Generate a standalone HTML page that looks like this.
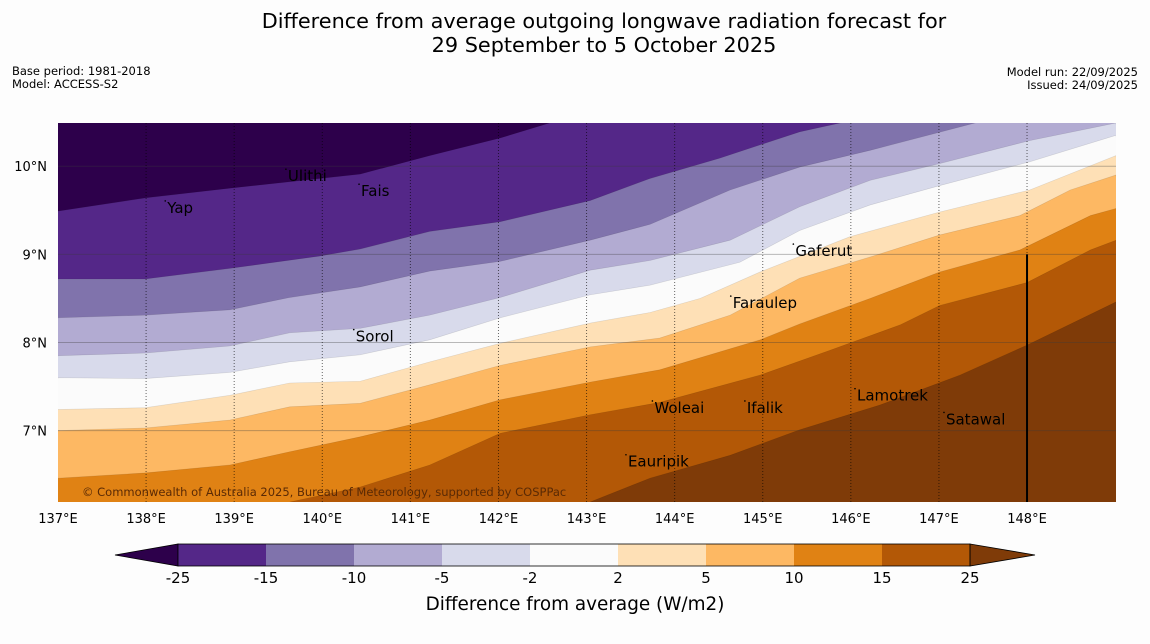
<!DOCTYPE html>
<html><head><meta charset="utf-8">
<style>
body{margin:0;background:#fdfdfd;font-family:"DejaVu Sans","Liberation Sans",sans-serif;}
#wrap{position:relative;width:1150px;height:644px;overflow:hidden;background:#fdfdfd;}
</style></head>
<body>
<div id="wrap">
<svg id="svg" width="1150" height="644" xmlns="http://www.w3.org/2000/svg" font-family="DejaVu Sans, Liberation Sans, sans-serif">
  <text x="604" y="28" font-size="20.8" text-anchor="middle" fill="#000">Difference from average outgoing longwave radiation forecast for</text>
  <text x="604" y="52" font-size="20.8" text-anchor="middle" fill="#000">29 September to 5 October 2025</text>
  <text x="12" y="75" font-size="11.5">Base period: 1981-2018</text>
  <text x="12" y="88" font-size="11.5">Model: ACCESS-S2</text>
  <text x="1138" y="76" font-size="11.5" text-anchor="end">Model run: 22/09/2025</text>
  <text x="1138" y="89" font-size="11.5" text-anchor="end">Issued: 24/09/2025</text>
  <g id="map"></g>
  <g id="cbar"></g>
</svg>
</div>
<script>
const levels = [-25,-15,-10,-5,-2,2,5,10,15,25];
const colors = ["#2d004b","#542788","#8073ac","#b2abd2","#d8daeb","#fbfbfb","#fee0b6","#fdb863","#e08214","#b35806","#7f3b08"];
const lonTicks = [137,138,139,140,141,142,143,144,145,146,147,148];
const latTicks = [7,8,9,10];
const b25nLon=[137,137.99,138.95,139.97,140.43,141.22,142.02,142.58];
const b25nLat=[9.49,9.64,9.75,9.86,9.91,10.12,10.32,10.49];
const b15nLon=[137,137.99,138.95,139.97,140.43,141.22,142.02,143.04,143.72,144.51,145.42,145.88];
const b15nLat=[8.72,8.72,8.84,8.98,9.06,9.26,9.37,9.61,9.86,10.09,10.39,10.49];
const b10nLon=[137,137.99,138.95,139.63,140.43,141.22,142.02,143.04,143.72,144.63,145.42,146.22,147.41];
const b10nLat=[8.28,8.31,8.37,8.51,8.63,8.81,8.92,9.16,9.34,9.73,9.99,10.18,10.49];
const b5nLon=[137,137.99,138.95,139.63,140.43,141.22,142.02,143.04,143.72,144.63,145.42,146.22,147.01,148.03,149.01];
const b5nLat=[7.85,7.88,7.96,8.11,8.16,8.31,8.51,8.82,8.93,9.16,9.54,9.84,10.03,10.29,10.49];
const b2nLon=[137,137.99,138.95,139.63,140.43,141.22,142.02,143.04,143.72,144.74,145.42,146.22,147.01,148.03,149.01];
const b2nLat=[7.60,7.59,7.66,7.78,7.86,8.03,8.28,8.54,8.65,8.91,9.27,9.56,9.78,10.05,10.35];
const b2Lon=[137,137.99,138.95,139.63,140.43,141.22,142.02,143.04,143.72,144.29,144.97,145.99,147.01,148.03,149.01];
const b2Lat=[7.24,7.26,7.40,7.54,7.56,7.78,7.99,8.22,8.34,8.50,8.80,9.20,9.48,9.73,10.12];
const b5Lon=[137,137.99,138.95,139.63,140.43,141.22,142.02,143.04,143.83,144.63,145.42,146.22,147.01,147.92,148.49,149.01];
const b5Lat=[7.00,7.03,7.12,7.27,7.31,7.52,7.74,7.95,8.05,8.31,8.73,8.97,9.22,9.44,9.73,9.90];
const b10Lon=[137,137.99,138.95,139.63,140.43,141.22,142.02,143.04,143.83,144.97,145.42,146.22,147.01,147.92,148.72,149.01];
const b10Lat=[6.46,6.52,6.61,6.76,6.93,7.12,7.35,7.55,7.69,8.03,8.21,8.50,8.80,9.05,9.44,9.52];
const b15Lon=[139.63,140.43,141.22,142.02,143.04,143.83,144.97,145.76,146.56,147.01,148.0,148.72,149.01];
const b15Lat=[6.19,6.36,6.61,6.97,7.18,7.32,7.63,7.91,8.20,8.42,8.68,9.05,9.16];
const b25Lon=[143.04,143.72,144.63,145.42,146.33,147.24,148.0,149.01];
const b25Lat=[6.19,6.46,6.72,7.01,7.29,7.63,7.97,8.46];
const places=["Yap","Ulithi","Fais","Sorol","Woleai","Eauripik","Ifalik","Faraulep","Gaferut","Lamotrek","Satawal"];
const placeLon=[138.24,139.61,140.44,140.38,143.77,143.47,144.82,144.66,145.37,146.07,147.08];
const placeLat=[9.47,9.83,9.66,8.01,7.20,6.59,7.20,8.39,8.98,7.34,7.07];
const cbLabels=["-25","-15","-10","-5","-2","2","5","10","15","25"];

const NS="http://www.w3.org/2000/svg";
const X0=58,X1=1116,Y0=123,Y1=502,LON0=137,LON1=149.01,LAT0=6.19,LAT1=10.49;
const xs=lon=>X0+(lon-LON0)/(LON1-LON0)*(X1-X0);
const ys=lat=>Y1-(lat-LAT0)/(LAT1-LAT0)*(Y1-Y0);
function mk(tag,attrs,parent){const e=document.createElementNS(NS,tag);for(const k in attrs)e.setAttribute(k,attrs[k]);parent.appendChild(e);return e;}
const map=document.getElementById('map');
const clip=mk('clipPath',{id:'mc'},mk('defs',{},map));
mk('rect',{x:X0,y:Y0,width:X1-X0,height:Y1-Y0},clip);
const g=mk('g',{'clip-path':'url(#mc)'},map);
let bg=mk('rect',{x:X0,y:Y0,width:X1-X0,height:Y1-Y0,fill:colors[0]},g);


const bounds=[[b25nLon,b25nLat],[b15nLon,b15nLat],[b10nLon,b10nLat],[b5nLon,b5nLat],[b2nLon,b2nLat],[b2Lon,b2Lat],[b5Lon,b5Lat],[b10Lon,b10Lat],[b15Lon,b15Lat],[b25Lon,b25Lat]];
bounds.forEach((b,i)=>{
  const pts=b[0].map((lo,j)=>[lo,b[1][j]]);
  const last=pts[pts.length-1];
  if(last[0]<LON1-0.01)pts.push([LON1+0.5,LAT1+0.5]);
  pts.push([LON1+0.5,LAT0-0.5]);
  if(pts[0][0]<=LON0+0.01)pts.push([LON0-0.5,LAT0-0.5]);
  const p=mk('polygon',{points:pts.map(q=>xs(q[0])+','+ys(q[1])).join(' '),fill:colors[i+1],stroke:'rgba(0,0,0,0.12)','stroke-width':0.6},g);
  
  
});
latTicks.forEach(v=>{
  const l=mk('line',{x1:X0,x2:X1,y1:ys(v),y2:ys(v),stroke:'rgba(60,60,60,0.35)','stroke-width':1},g);
  
  
  const t=mk('text',{x:47,y:ys(v)+5,'font-size':13,'text-anchor':'end'},map);t.textContent=v+'°N';
  
  
});
lonTicks.forEach(v=>{
  if(v>137){const l=mk('line',{x1:xs(v),x2:xs(v),y1:Y0,y2:Y1,stroke:'rgba(0,0,0,0.6)','stroke-width':1,'stroke-dasharray':'1,2'},g);
  
  }
  const t=mk('text',{x:xs(v),y:523,'font-size':13,'text-anchor':'middle'},map);t.textContent=v+'°E';
  
  
});
let bl=mk('line',{x1:xs(148),x2:xs(148),y1:ys(9),y2:Y1,stroke:'#000','stroke-width':2},g);


places.forEach((n,i)=>{
  const x=xs(placeLon[i]),y=ys(placeLat[i]);
  const d=mk('circle',{cx:x-2,cy:y-12,r:0.8,fill:'#000'},g);
  
  
  const t=mk('text',{x:x,y:y,'font-size':15,fill:'#000'},g);t.textContent=n;
  
  
});
let cp=mk('text',{x:82,y:496,'font-size':11.5,fill:'#5a2a05'},g);cp.textContent='© Commonwealth of Australia 2025, Bureau of Meteorology, supported by COSPPac';



const cb=document.getElementById('cbar');
const CX=178,CW=88,CY=544,CH=22;
let lt=mk('polygon',{points:`115,${CY+CH/2} ${CX},${CY} ${CX},${CY+CH}`,fill:colors[0],stroke:'#000','stroke-width':0.8},cb);


for(let i=1;i<colors.length-1;i++){
  const r=mk('rect',{x:CX+(i-1)*CW,y:CY,width:CW,height:CH,fill:colors[i]},cb);
  
  
}
let rt=mk('polygon',{points:`${CX+9*CW},${CY} 1035,${CY+CH/2} ${CX+9*CW},${CY+CH}`,fill:colors[10],stroke:'#000','stroke-width':0.8},cb);


mk('rect',{x:CX,y:CY,width:9*CW,height:CH,fill:'none',stroke:'#000','stroke-width':0.8},cb);
cbLabels.forEach((s,i)=>{
  const t=mk('text',{x:CX+i*CW,y:583,'font-size':15,'text-anchor':'middle'},cb);t.textContent=s;
  
  
});
let ct=mk('text',{x:575,y:610,'font-size':18.4,'text-anchor':'middle'},cb);ct.textContent='Difference from average (W/m2)';


</script>
</body></html>
